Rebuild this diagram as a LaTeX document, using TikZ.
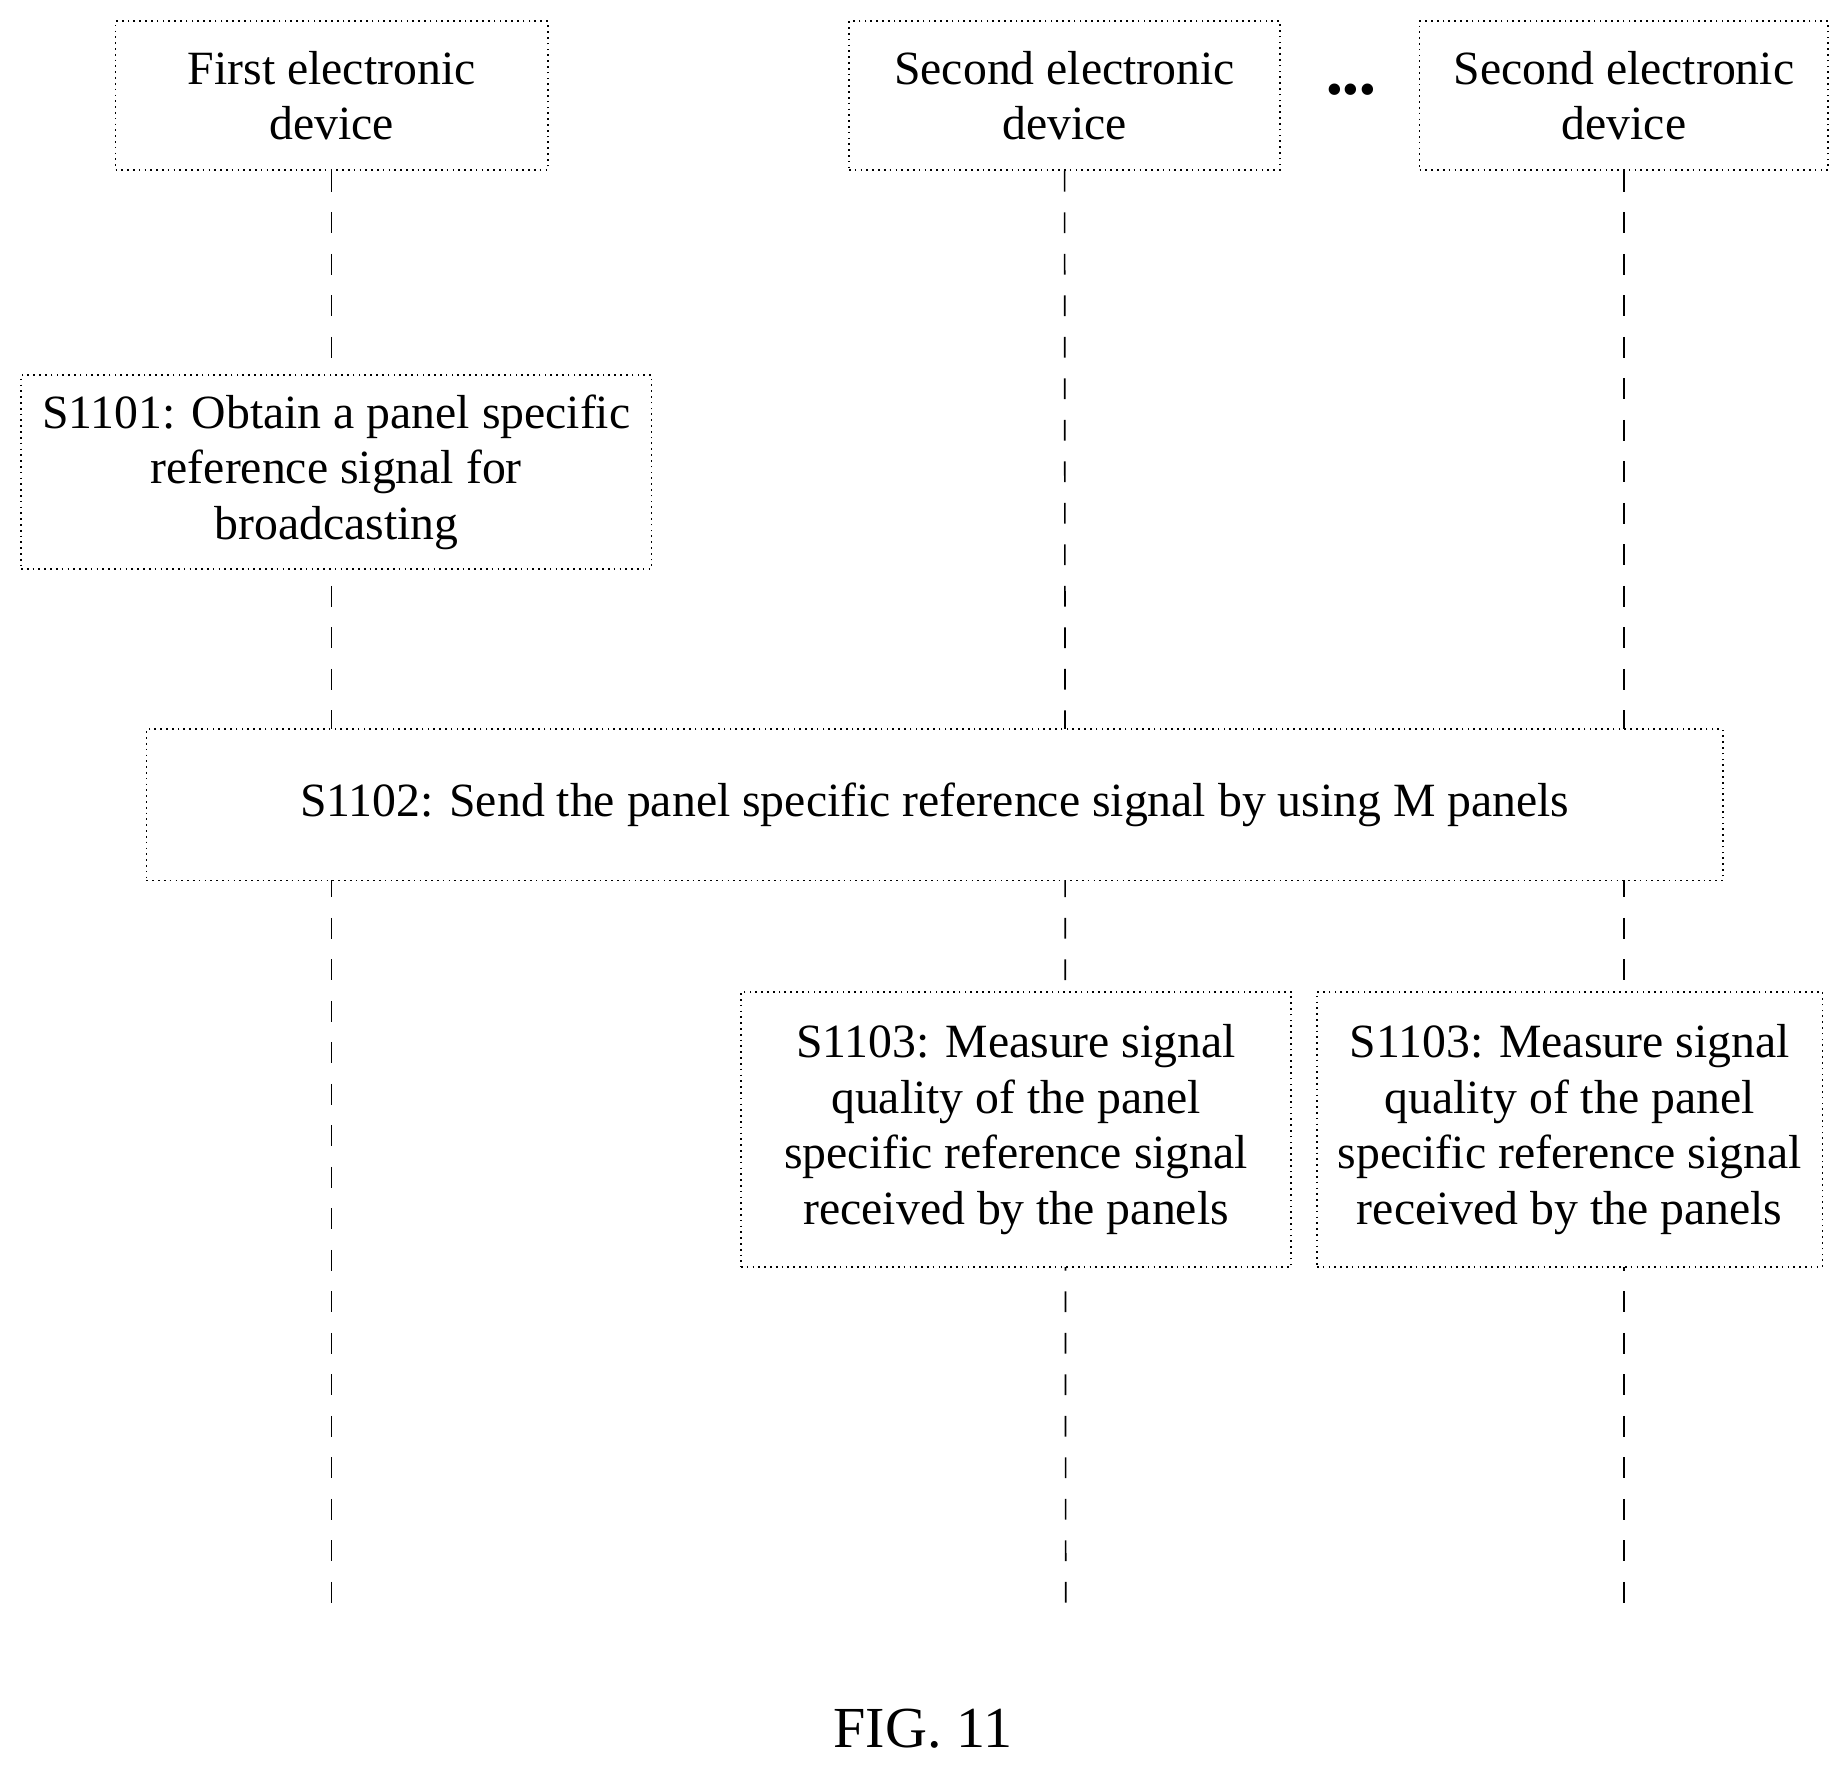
\documentclass[tikz,border=0pt]{standalone}
\usepackage{fontspec}
\setmainfont{Liberation Serif}
\usetikzlibrary{positioning}
\begin{document}
\begin{tikzpicture}[x=0.01cm, y=-0.01cm,
                every node/.style={font=\fontsize{11.5}{13.4}\selectfont, align=center},
                box/.style={draw, densely dotted, fill=white, inner sep=0pt},
                life/.style={draw, dashed, dash pattern=on 5pt off 5pt}]

                \useasboundingbox (0,0) rectangle (1565,1495);

                % Devices
                \node[box, minimum width=3.66cm, minimum height=1.26cm] (first) at (281,81) {First electronic\\device};
                \node[box, minimum width=3.65cm, minimum height=1.26cm] (secA) at (902,81) {Second electronic\\device};
                \node[box, minimum width=3.46cm, minimum height=1.26cm] (secB) at (1376,81) {Second electronic\\device};
                \node (dots) at (1145,80) {\textbullet\textbullet\textbullet};

                % Lifeline ends
                \coordinate (endA) at (281,1365);
                \coordinate (endB) at (903,1365);
                \coordinate (endC) at (1376,1365);
                \path[life] (first) -- (endA);
                \path[life] (secA) -- (endB);
                \path[life] (secB) -- (endC);

                % Steps
                \node[box, minimum width=5.34cm, minimum height=1.64cm] (s1101) at (285,400) {S1101: Obtain a panel specific\\reference signal for\\broadcasting};
                \node[box, minimum width=13.35cm, minimum height=1.28cm] (s1102) at (792,682) {S1102: Send the panel specific reference signal by using M panels};
                \node[box, minimum width=4.66cm, minimum height=2.33cm] (s1103a) at (861,957) {S1103: Measure signal\\quality of the panel\\specific reference signal\\received by the panels};
                \node[box, minimum width=4.28cm, minimum height=2.33cm] (s1103b) at (1330,957) {S1103: Measure signal\\quality of the panel\\specific reference signal\\received by the panels};

                \node[font=\fontsize{14}{16}\selectfont] (fig) at (782,1465) {FIG. 11};
\end{tikzpicture}
\end{document}
